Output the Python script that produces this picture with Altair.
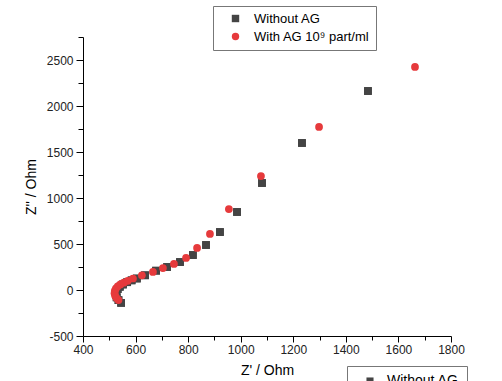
import altair as alt
import pandas as pd

series_names = ["Without AG", "With AG 10⁹ part/ml"]

x_without = [545, 535, 528, 525, 527, 532, 540, 552, 568, 585, 605, 636, 678, 720, 769, 818, 868, 921, 986, 1081, 1233, 1484]
y_without = [-140, -110, -80, -50, -20, 10, 35, 60, 85, 105, 125, 160, 210, 250, 304, 380, 489, 630, 848, 1163, 1598, 2163]

x_with = [535, 527, 522, 520, 521, 525, 532, 542, 555, 570, 590, 624, 666, 704, 746, 792, 834, 883, 955, 1077, 1298, 1663]
y_with = [-110, -85, -60, -35, -10, 15, 40, 60, 80, 100, 125, 160, 196, 239, 283, 348, 457, 609, 880, 1239, 1772, 2424]

x_ticks = list(range(400, 1801, 100))
y_ticks = list(range(-500, 2751, 250))

rows = []
for xv, yv in zip(x_without, y_without):
    rows.append({"zr": xv, "zi": yv, "series": series_names[0], "dup": series_names[0]})
for xv, yv in zip(x_with, y_with):
    rows.append({"zr": xv, "zi": yv, "series": series_names[1], "dup": series_names[1]})
df = pd.DataFrame(rows)

FONT = "Liberation Sans"

x_enc = alt.X(
    "zr:Q",
    scale=alt.Scale(domain=[400, 1800], nice=False, zero=False),
    axis=alt.Axis(
        values=x_ticks,
        title="Z' / Ohm",
        labelExpr="datum.value % 200 === 0 ? '' + datum.value : ''",
        tickSize={"condition": {"test": "datum.value % 200 === 0", "value": 6}, "value": 4},
        labelOverlap=False,
        labelFlush=False,
        labelPadding=2,
        titlePadding=8,
    ),
)
y_enc = alt.Y(
    "zi:Q",
    scale=alt.Scale(domain=[-500, 2750], nice=False, zero=False),
    axis=alt.Axis(
        values=y_ticks,
        title="Z'' / Ohm",
        labelExpr="datum.value % 500 === 0 ? '' + datum.value : ''",
        tickSize={"condition": {"test": "datum.value % 500 === 0", "value": 7}, "value": 5},
        labelOverlap=False,
        labelFlush=False,
        labelPadding=3,
        titlePadding=8,
    ),
)

dup_layer = alt.Chart(df).transform_filter(
    alt.datum.series == series_names[0]
).mark_point(filled=True, opacity=1, size=60, shape="square").encode(
    x=x_enc,
    y=y_enc,
    fill=alt.Fill(
        "dup:N",
        scale=alt.Scale(domain=[series_names[0]], range=["#444444"]),
        legend=alt.Legend(
            title=None, orient="none", legendX=264, legendY=329,
            symbolType="square", symbolSize=50, padding=8,
            strokeColor="#777777", fillColor="white",
            labelFont=FONT, labelFontSize=14, labelColor="black",
            symbolOffset=8, labelOffset=10,
        ),
    ),
)

legend_main = alt.Legend(
    title=None, orient="none", legendX=130, legendY=-31,
    symbolSize=55, padding=6, rowPadding=4,
    strokeColor="#777777", fillColor="white",
    labelFont=FONT, labelFontSize=13, labelColor="black",
    symbolOffset=10, labelOffset=12,
)

main_layer = alt.Chart(df).mark_point(filled=True, opacity=1, size=60).encode(
    x=x_enc,
    y=y_enc,
    color=alt.Color(
        "series:N",
        scale=alt.Scale(domain=series_names, range=["#444444", "#e63a3c"]),
        legend=legend_main,
    ),
    shape=alt.Shape(
        "series:N",
        scale=alt.Scale(domain=series_names, range=["square", "circle"]),
        legend=legend_main,
    ),
    order=alt.Order("order:Q"),
).transform_calculate(order="datum.series === 'Without AG' ? 0 : 1")

chart = alt.layer(dup_layer, main_layer).properties(
    width=368,
    height=299,
    autosize=alt.AutoSizeParams(type="none"),
    padding={"left": 83, "top": 37, "right": 51, "bottom": 45},
    background="white",
).configure_view(
    stroke=None
).configure_axis(
    grid=False,
    domainColor="black",
    domainWidth=1,
    tickColor="black",
    tickWidth=1,
    labelFont=FONT,
    labelFontSize=12,
    labelColor="#222222",
    titleFont=FONT,
    titleFontSize=14,
    titleFontWeight="normal",
    titleColor="black",
)

chart.save("out.html", embed_options={"renderer": "svg", "actions": False})
